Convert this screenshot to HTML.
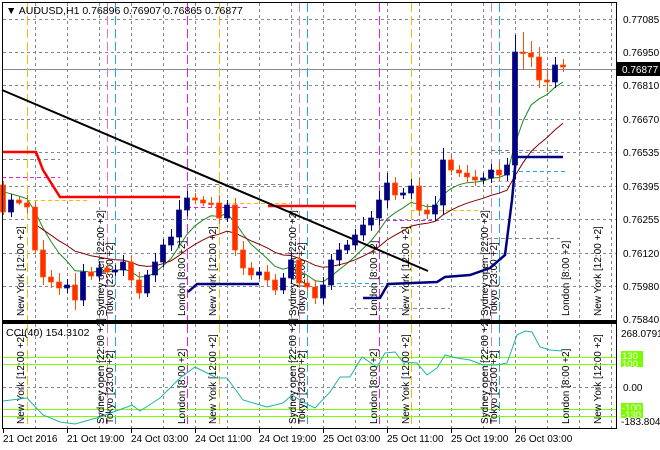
<!DOCTYPE html>
<html><head><meta charset="utf-8"><style>
html,body{margin:0;padding:0;background:#fff;}
svg{display:block;font-family:"Liberation Sans",sans-serif;}
</style></head><body>
<svg id="s" width="660" height="450" xmlns="http://www.w3.org/2000/svg">
<rect width="660" height="450" fill="#fff"/>
<g id="grid" stroke="#7f8a96" stroke-dasharray="3,3" stroke-width="1"></g>
<g id="sess"></g>
<g id="lbl" font-size="10" fill="#000"></g>
<g id="ind"></g>
<g id="cand"></g>
<rect x="2.5" y="2.5" width="614" height="318" fill="none" stroke="#000"/>
<line x1="2" y1="322" x2="617" y2="322" stroke="#000" stroke-width="2"/>
<rect x="2.5" y="323.5" width="614" height="105" fill="none" stroke="#000"/>
<g font-size="10" fill="#000" id="axis"></g>
<text x="6" y="14" font-size="10.5" fill="#000">▼ AUDUSD,H1  0.76896 0.76907 0.76865 0.76877</text>
<text x="6" y="336" font-size="10.5" fill="#000">CCI(40) 154.3102</text>
</svg>
<script>
(function(){
var NS="http://www.w3.org/2000/svg";
function el(p,t,a,txt){var e=document.createElementNS(NS,t);for(var k in a)e.setAttribute(k,a[k]);if(txt!==undefined)e.textContent=txt;document.getElementById(p).appendChild(e);return e;}
var py=[19,52,85,119,152,186,219,253,286];
py.forEach(function(y){el('grid','line',{x1:3,x2:616,y1:y+.5,y2:y+.5});});
el('grid','line',{x1:3,x2:616,y1:387.5,y2:387.5});
for(var gx=35;gx<616;gx+=32){el('grid','line',{x1:gx+.5,x2:gx+.5,y1:3,y2:320});el('grid','line',{x1:gx+.5,x2:gx+.5,y1:324,y2:428});}
el('grid','line',{x1:3,x2:616,y1:69.5,y2:69.5,stroke:"#7f8a96","stroke-dasharray":"none"});
var sl=[[27,"#f0c000"],[107,"#e070e0"],[115,"#20a8e0"],[187,"#e020e0"],[219,"#f0c000"],[299,"#d080d0"],[307,"#20a8e0"],[379,"#e020e0"],[411,"#f0c000"],[491,"#d080d0"],[499,"#20a8e0"]];
sl.forEach(function(s){el('sess','line',{x1:s[0]+.5,x2:s[0]+.5,y1:3,y2:320,stroke:s[1],"stroke-dasharray":"9,4"});el('sess','line',{x1:s[0]+.5,x2:s[0]+.5,y1:324,y2:428,stroke:s[1],"stroke-dasharray":"9,4"});});
[357,364,409,416].forEach(function(y){el('sess','line',{x1:3,x2:616,y1:y+.5,y2:y+.5,stroke:"#7cfc00"});});
[[2,60,159,"#7f8a96"],[2,60,177,"#e020e0"],[27,90,200,"#f0c000"],[187,250,207,"#e020e0"],[219,290,203,"#f0c000"],[187,290,184,"#7f8a96"],[379,440,220,"#e020e0"],[411,480,210,"#f0c000"],[491,565,171,"#20a8e0"],[491,560,181,"#d0a0d0"],[491,560,150,"#7f8a96"],[330,395,283,"#20a8e0"],[350,450,308,"#7f8a96"],[480,560,238,"#7f8a96"]].forEach(function(d){el('sess','line',{x1:d[0],x2:d[1],y1:d[2]+.5,y2:d[2]+.5,stroke:d[3],"stroke-dasharray":"4,3"});});
var L=[[20,"New York  [12:00 +2]"],[100,"Sydney open  [22:00 +2]"],[109,"Tokyo  [23:00 +2]"],[181,"London  [8:00 +2]"],[212,"New York  [12:00 +2]"],[292,"Sydney open  [22:00 +2]"],[301,"Tokyo  [23:00 +2]"],[373,"London  [8:00 +2]"],[405,"New York  [12:00 +2]"],[484,"Sydney open  [22:00 +2]"],[493,"Tokyo  [23:00 +2]"],[565,"London  [8:00 +2]"],[597,"New York  [12:00 +2]"]];
L.forEach(function(l){[316,424].forEach(function(b){el('lbl','text',{transform:"translate("+(l[0]+4)+","+b+") rotate(-90)"},l[1]);});});
var C=[212,200,203,207,250,277,282,288,285,300,272,276,268,272,270,262,280,293,275,262,245,237,210,198,200,203,203,218,205,250,268,275,272,280,290,278,260,283,287,298,285,260,250,245,235,225,218,200,183,195,193,186,210,214,205,160,170,173,177,180,178,170,175,165,52,53,57,80,82,65,67];
var O=[185];for(var i=1;i<C.length;i++)O.push(C[i-1]);
var wk=[4,6,3,8,5,10,7,9,6,12,8,5,6,4,5,7,6,8,5,9,6,8,10,7,5,4,6,8,5,7,9,6,5,7,6,5,8,6,5,7,8,6,7,5,6,8,7,9,10,6,5,7,8,6,9,12,6,5,8,7,5,6,8,7,17,20,12,10,12,8,6];
for(var i=0;i<C.length;i++){var cx=3+8*i,o=O[i],c=C[i],tp=Math.min(o,c),bt=Math.max(o,c),w=wk[i];var bull=c<o;var col=bull?"#000080":"#ff3000";
el('cand','line',{x1:cx+.5,x2:cx+.5,y1:tp-w,y2:bt+Math.round(w*0.8),stroke:bull?"#000080":"#ff5000"});
el('cand','rect',{x:cx-2.5,y:tp,width:5,height:Math.max(bt-tp,1.5),fill:col,stroke:bull?"#000080":"#ff5000","stroke-width":0.7});}
function ema(p,s){var k=2/(p+1),r=[],v=s;C.forEach(function(c){v=v+k*(c-v);r.push(v);});return r;}
var g=ema(7,185),m=ema(18,230);
function pl(a,st,x0){var s="";for(var i=x0;i<a.length;i++)s+=(3+8*i)+","+a[i].toFixed(1)+" ";el('ind','polyline',{points:s,fill:"none",stroke:st,"stroke-width":1});}
pl(g,"#1a8a1a",0);pl(m,"#800000",4);
el('ind','polyline',{points:"3,152 36,152 43,170 60,197 180,197",fill:"none",stroke:"#ff0000","stroke-width":2.5});
el('ind','polyline',{points:"268,206 356,206",fill:"none",stroke:"#ff0000","stroke-width":2.5});
el('ind','polyline',{points:"188,292 197,284 259,284",fill:"none",stroke:"#000080","stroke-width":2.5});
el('ind','polyline',{points:"363,298 380,298 388,284 437,282 445,277 470,275 490,268 505,255 512,200 516,157 563,157",fill:"none",stroke:"#000080","stroke-width":2.5});
el('ind','line',{x1:2,y1:90,x2:428,y2:271,stroke:"#000","stroke-width":2});
el('ind','polyline',{points:"3,401 27,398 43,415 60,422 75,424 100,417 127,407 132,405 140,411 160,398 180,378 195,367 217,378 227,378 243,400 267,407 283,403 292,395 303,402 315,408 330,392 340,377 350,377 362,357 377,367 385,353 395,352 403,362 417,363 427,375 437,368 445,355 457,358 470,360 483,365 497,365 507,363 517,335 525,331 532,332 540,347 550,350 562,351",fill:"none",stroke:"#20b2aa","stroke-width":1});
var pv=["0.77085","0.76950","0.76810","0.76670","0.76535","0.76395","0.76255","0.76120","0.75980","0.75840"],pyy=[19,52,85,119,152,186,219,253,286,319];
pv.forEach(function(v,i){el('axis','text',{x:623,y:pyy[i]+4},v);});
el('axis','rect',{x:617,y:62,width:43,height:14,fill:"#000"});
el('axis','text',{x:622,y:73,fill:"#fff"},"0.76877");
el('axis','text',{x:621,y:337},"268.0791");
el('axis','text',{x:623,y:391},"0.00");
el('axis','text',{x:621,y:425},"-183.804");
[[351,"130"],[359,"100"],[403,"-100"],[410,"-130"]].forEach(function(d){el('axis','rect',{x:621,y:d[0],width:22,height:8,fill:"#7cfc00"});el('axis','text',{x:622,y:d[0]+8,fill:"#fff","font-size":"9.5"},d[1]);});
var T=[[3,"21 Oct 2016"],[67,"21 Oct 19:00"],[131,"24 Oct 03:00"],[195,"24 Oct 11:00"],[259,"24 Oct 19:00"],[323,"25 Oct 03:00"],[387,"25 Oct 11:00"],[451,"25 Oct 19:00"],[515,"26 Oct 03:00"]];
T.forEach(function(t){el('axis','line',{x1:t[0]+.5,x2:t[0]+.5,y1:429,y2:433,stroke:"#000"});el('axis','text',{x:t[0],y:442},t[1]);});
})();
</script>
</body></html>
